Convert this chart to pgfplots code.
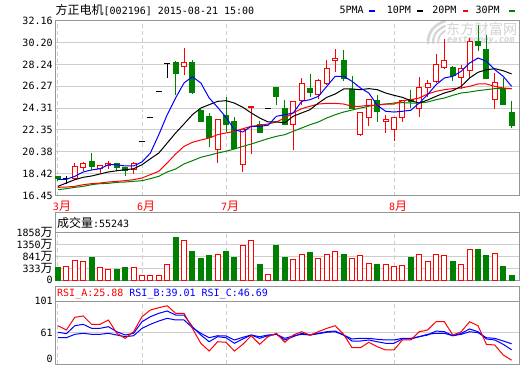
\documentclass[border=0pt]{standalone}
\usepackage{pgfplots}
\pgfplotsset{compat=1.18}
\usepackage{pgfplotstable}
\usepackage{fontspec}
\setmainfont{DejaVu Sans Mono}
\newfontfamily\cjk{Noto Sans CJK SC}
\newcommand\cj[1]{{\cjk\fontsize{12bp}{14bp}\selectfont #1}}
\definecolor{kred}{RGB}{255,0,0}
\definecolor{kgreen}{RGB}{0,128,0}
\definecolor{kblue}{RGB}{0,0,255}
\definecolor{gridc}{RGB}{205,205,205}
\definecolor{framec}{RGB}{150,150,150}
\definecolor{wm}{RGB}{212,212,212}

\pgfplotsset{
  panel/.style={
    scale only axis, width=464bp, xmin=-0.357, xmax=54.88,
    axis line style={draw=framec, line width=1bp},
    major tick length=0pt, tick style={draw=none},
    xtick={0,10,20,40},
    xmajorgrids, ymajorgrids,
    x grid style={draw=gridc, line width=1bp, dash pattern=on 4bp off 3bp},
    y grid style={draw=gridc, line width=1bp},
    yticklabel style={anchor=east, inner sep=0pt, xshift=-2.2bp, font=\fontsize{10bp}{12bp}\selectfont},
    /pgf/number format/assume math mode=true,
  },
  rbody/.style={draw=kred, fill=white, line width=1bp, mark=none},
  gbody/.style={draw=kgreen, fill=kgreen, line width=1bp, mark=none},
}
\newcommand\rb[4]{\addplot[rbody] coordinates {(#1,#3) (#2,#3) (#2,#4) (#1,#4)} -- cycle;}
\newcommand\gb[4]{\addplot[gbody] coordinates {(#1,#3) (#2,#3) (#2,#4) (#1,#4)} -- cycle;}

\pgfplotstableread{
i ma5 ma10 ma20 ma30
0 17.92 17.29 17.20 16.99
1 17.92 17.59 17.23 17.08
2 18.19 17.89 17.29 17.20
3 18.58 18.10 17.44 17.29
4 18.76 18.22 17.53 17.44
5 18.87 18.40 17.59 17.53
6 19.23 18.58 17.68 17.56
7 19.23 18.69 17.74 17.65
8 19.12 18.78 17.80 17.68
9 19.12 18.87 17.89 17.74
10 19.48 19.23 18.04 17.80
11 20.28 19.77 18.34 17.98
12 21.93 20.28 18.64 18.19
13 23.72 21.18 19.39 18.58
14 25.22 22.08 20.19 18.85
15 26.57 22.89 20.88 19.30
16 27.13 23.72 21.24 19.59
17 26.57 24.32 21.45 19.90
18 25.22 24.62 21.63 20.08
19 24.39 24.92 21.93 20.28
20 23.49 24.98 22.08 20.44
21 22.37 24.77 22.23 20.64
22 22.17 24.39 22.46 20.88
23 22.68 23.88 22.68 21.09
24 22.68 23.43 22.77 21.33
25 22.77 23.07 22.89 21.57
26 23.58 23.07 23.07 21.78
27 23.72 23.00 23.43 21.93
28 23.88 23.58 23.88 22.23
29 24.92 23.88 24.26 22.53
30 25.07 24.17 24.48 22.82
31 25.37 24.77 24.68 23.07
32 26.27 25.28 24.74 23.43
33 27.17 25.58 24.74 23.72
34 27.17 26.03 24.68 23.96
35 26.72 26.03 24.48 24.14
36 26.12 25.97 24.48 24.32
37 25.67 26.06 24.57 24.48
38 24.57 25.97 24.57 24.62
39 24.03 25.67 24.68 24.68
40 23.96 25.46 24.68 24.77
41 24.03 25.28 24.98 24.80
42 24.12 24.98 25.07 24.77
43 24.77 24.77 25.22 24.77
44 25.52 25.04 25.58 24.86
45 26.41 25.37 25.82 25.07
46 27.02 25.67 25.97 25.22
47 27.17 25.88 26.06 25.46
48 27.62 26.27 26.12 25.67
49 28.36 27.02 26.27 25.76
50 28.81 27.53 26.48 25.88
51 28.52 27.76 26.48 25.97
52 27.76 27.85 26.27 26.06
53 27.17 27.67 26.12 26.06
54 26.27 27.38 26.06 26.06
}\matab

\pgfplotstableread{
i v
1 605
2 859
3 817
5 521
6 478
9 563
10 224
11 224
12 224
13 677
15 1706
19 1113
22 1494
23 1664
25 254
28 889
29 1101
31 902
32 1101
33 1228
35 902
36 1058
37 720
39 677
40 593
41 635
43 1101
44 804
45 1101
46 1058
48 677
49 1325
52 1143
}\volred

\pgfplotstableread{
i v
0 533
4 986
7 478
8 533
14 1833
16 1240
17 914
18 1029
20 1240
21 986
24 690
26 1494
27 986
30 1198
34 1113
38 690
42 986
47 817
50 1283
51 1029
53 605
54 224
}\volgreen

\pgfplotstableread{
i a b c
0 69.6 61.3 54.4
1 64.2 59.5 54.4
2 80.3 69.6 58.7
3 82.0 71.4 60.0
4 71.4 66.3 58.7
5 71.4 66.3 58.7
6 76.9 68.4 60.0
7 60.0 62.0 57.8
8 53.6 57.8 55.7
9 62.0 60.0 56.9
10 81.1 74.7 66.3
11 89.6 81.1 71.4
12 92.5 85.4 75.6
13 95.0 88.3 79.0
14 85.4 83.2 76.9
15 85.4 83.2 76.9
16 66.3 68.4 67.1
17 47.3 57.8 60.0
18 37.5 49.3 54.4
19 49.3 55.7 56.9
20 48.6 54.4 56.6
21 37.5 47.3 51.5
22 46.0 52.8 54.9
23 56.9 57.8 57.8
24 46.0 53.6 55.7
25 55.7 56.9 57.8
26 60.0 58.7 58.7
27 48.6 51.5 53.6
28 57.8 55.7 56.6
29 62.0 60.0 58.7
30 57.8 57.8 57.8
31 62.0 60.0 59.5
32 66.3 62.0 61.3
33 69.6 62.9 62.0
34 58.7 57.8 57.8
35 41.7 50.2 52.8
36 41.7 50.2 53.6
37 48.6 51.5 53.6
38 43.0 49.3 52.4
39 38.8 47.3 51.5
40 38.8 47.3 51.5
41 51.5 52.8 53.6
42 51.5 52.8 53.6
43 62.0 55.7 55.7
44 64.2 57.8 58.7
45 74.7 62.9 60.0
46 74.7 62.0 60.0
47 57.8 56.9 56.9
48 62.0 60.0 58.7
49 74.7 65.5 62.0
50 69.6 62.0 60.8
51 46.0 52.8 54.4
52 45.1 51.5 53.6
53 32.4 46.0 50.2
54 25.88 39.01 46.69
}\rsitab

\begin{document}
\begin{tikzpicture}[font=\fontsize{10bp}{12bp}\selectfont]
\fill[white, use as bounding box] (0,0) rectangle (520bp,-365bp);

% watermark
\node[text=wm, anchor=west, inner sep=0pt] at (446bp,-29.5bp) {\cjk\fontsize{14.2bp}{15bp}\selectfont 东方财富网};
\node[text=wm, anchor=west, inner sep=0pt] at (447bp,-40.8bp) {\fontsize{8.6bp}{9bp}\selectfont\bfseries\itshape eastmoney.com};
\draw[wm, line width=2.6bp, line cap=round] (428bp,-43bp) .. controls (428bp,-32bp) and (434bp,-25bp) .. (445bp,-21bp);
\draw[wm, line width=2.2bp, line cap=round] (433bp,-43bp) .. controls (433bp,-34bp) and (438bp,-29bp) .. (445bp,-26bp);
\draw[wm, line width=1.8bp, line cap=round] (438bp,-43bp) .. controls (438bp,-37bp) and (441bp,-33bp) .. (445bp,-31bp);

% title and legend
\node[anchor=west, inner sep=0pt] at (55.5bp,-10bp) {\cj{方正电机}[002196] 2015-08-21 15:00};
\node[anchor=west, inner sep=0pt] at (339.4bp,-10bp) {5PMA};
\node[anchor=west, inner sep=0pt] at (386.7bp,-10bp) {10PM};
\node[anchor=west, inner sep=0pt] at (432.1bp,-10bp) {20PM};
\node[anchor=west, inner sep=0pt] at (475.4bp,-10bp) {30PM};
\fill[kblue] (369.3bp,-9.8bp) rectangle (374.6bp,-12.2bp);
\fill[black] (416.9bp,-9.8bp) rectangle (423.2bp,-12.2bp);
\fill[kred] (462.8bp,-9.8bp) rectangle (468.4bp,-12.2bp);
\fill[kgreen] (509.4bp,-9.8bp) rectangle (515.2bp,-12.2bp);

% panel frames (header rows)
\draw[framec, line width=1bp] (55bp,-212.7bp) rectangle (519bp,-280.3bp);
\draw[framec, line width=1bp] (55bp,-286.7bp) rectangle (519bp,-364bp);
\node[anchor=west, inner sep=0pt] at (56.8bp,-222.5bp) {\cj{成交量}:55243};
\node[anchor=west, inner sep=0pt] at (57bp,-293.5bp) {\textcolor{kred}{RSI\_A:25.88} \textcolor{kblue}{RSI\_B:39.01 RSI\_C:46.69}};

% ---------------- main price panel ----------------
\begin{axis}[panel, at={(55bp,-195.7bp)}, anchor=south west, height=175bp,
  ymin=16.45, ymax=32.16,
  ytick={16.45,18.42,20.38,22.35,24.31,26.27,28.24,30.20,32.16},
  yticklabels={16.45,18.42,20.38,22.35,24.31,26.27,28.24,30.20,32.16},
  xticklabels={3\cj{月},6\cj{月},7\cj{月},8\cj{月}},
  xticklabel style={text=kred, anchor=west, inner sep=0pt, xshift=-5.2bp, yshift=-11bp, font=\fontsize{10bp}{12bp}\selectfont},
]
% wicks
\addplot[kred, line width=1bp, unbounded coords=jump, mark=none] coordinates {
(2,17.86) (2,19.36) (2,nan) (3,18.64) (3,19.48) (3,nan) (5,18.46) (5,19.23) (5,nan)
(6,18.87) (6,19.54) (6,nan) (9,18.40) (9,19.48) (9,nan) (15,27.26) (15,29.71) (15,nan)
(19,19.41) (19,23.31) (19,nan) (22,18.58) (22,22.41) (22,nan) (23,20.19) (23,24.50) (23,nan)
(28,20.58) (28,24.98) (28,nan) (29,24.57) (29,27.02) (29,nan) (31,25.10) (31,26.95) (31,nan)
(32,26.42) (32,28.63) (32,nan) (33,27.55) (33,29.65) (33,nan) (36,21.81) (36,23.96) (36,nan)
(37,22.68) (37,25.16) (37,nan) (39,22.08) (39,23.72) (39,nan) (40,21.39) (40,23.49) (40,nan)
(41,23.07) (41,25.04) (41,nan) (43,23.54) (43,27.13) (43,nan) (44,25.28) (44,26.84) (44,nan)
(45,26.54) (45,29.17) (45,nan) (46,27.85) (46,30.55) (46,nan) (48,26.06) (48,28.21) (48,nan)
(49,27.02) (49,30.61) (49,nan) (52,24.26) (52,27.44)
};
\addplot[kgreen, line width=1bp, unbounded coords=jump, mark=none] coordinates {
(0,17.80) (0,18.25) (0,nan) (4,18.78) (4,20.28) (4,nan) (7,18.64) (7,19.41) (7,nan)
(8,18.22) (8,19.00) (8,nan) (14,25.46) (14,28.57) (14,nan) (16,25.58) (16,28.63) (16,nan)
(17,23.07) (17,24.26) (17,nan) (18,20.85) (18,23.90) (18,nan) (20,22.14) (20,25.28) (20,nan)
(21,20.67) (21,23.49) (21,nan) (24,22.05) (24,23.13) (24,nan) (26,24.62) (26,26.24) (26,nan)
(27,22.77) (27,25.04) (27,nan) (30,25.34) (30,27.38) (30,nan) (34,26.72) (34,29.56) (34,nan)
(35,24.26) (35,27.17) (35,nan) (38,23.07) (38,25.52) (38,nan) (42,24.32) (42,25.90) (42,nan)
(47,26.72) (47,28.05) (47,nan) (50,29.47) (50,31.80) (50,nan) (51,26.95) (51,30.90) (51,nan)
(53,24.62) (53,27.02) (53,nan) (54,22.53) (54,24.92)
};
\addplot[black, line width=1bp, unbounded coords=jump, mark=none] coordinates {
(0.65,17.95) (1.35,17.95) (1,nan) (1,17.54) (1,18.22) (1,nan)
(9.65,21.30) (10.35,21.30) (10,nan) (10.65,23.43) (11.35,23.43) (11,nan)
(11.65,25.77) (12.35,25.77) (12,nan) (12.65,28.35) (13.35,28.35) (13,nan)
(13,27.02) (13,28.35) (13,nan) (24.65,24.31) (25.35,24.31)
};
% bodies
\gb{-0.3}{0.3}{18.13}{18.01}
\gb{3.7}{4.3}{19.54}{19.05}
\gb{6.7}{7.3}{19.36}{19.00}
\gb{7.7}{8.3}{18.94}{18.70}
\gb{13.7}{14.3}{28.45}{27.46}
\gb{15.7}{16.3}{28.45}{25.70}
\gb{16.7}{17.3}{24.14}{23.13}
\gb{17.7}{18.3}{23.60}{21.69}
\gb{19.7}{20.3}{23.69}{22.88}
\gb{20.7}{21.3}{23.13}{20.67}
\gb{23.7}{24.3}{22.88}{22.10}
\gb{25.7}{26.3}{26.18}{25.37}
\gb{26.7}{27.3}{24.32}{22.88}
\gb{29.7}{30.3}{26.06}{25.70}
\gb{33.7}{34.3}{28.57}{26.95}
\gb{34.7}{35.3}{26.00}{24.26}
\gb{37.7}{38.3}{25.04}{24.03}
\gb{41.7}{42.3}{25.09}{24.91}
\gb{46.7}{47.3}{27.98}{27.26}
\gb{49.7}{50.3}{30.31}{29.95}
\gb{50.7}{51.3}{29.59}{26.95}
\gb{52.7}{53.3}{26.06}{24.62}
\gb{53.7}{54.3}{23.96}{22.77}
\rb{1.7}{2.3}{17.98}{19.09}
\rb{2.7}{3.3}{19.00}{19.30}
\rb{4.7}{5.3}{18.87}{19.12}
\rb{5.7}{6.3}{19.18}{19.36}
\rb{8.7}{9.3}{18.76}{19.36}
\rb{14.7}{15.3}{28.03}{28.45}
\rb{18.7}{19.3}{20.62}{23.31}
\rb{21.7}{22.3}{19.23}{22.35}
\rb{22.7}{23.3}{24.38}{24.47}
\rb{27.7}{28.3}{22.82}{24.92}
\rb{28.7}{29.3}{24.98}{26.48}
\rb{30.7}{31.3}{25.58}{26.77}
\rb{31.7}{32.3}{26.48}{27.91}
\rb{32.7}{33.3}{28.63}{28.81}
\rb{35.7}{36.3}{21.93}{23.96}
\rb{36.7}{37.3}{23.43}{25.10}
\rb{38.7}{39.3}{23.07}{23.25}
\rb{39.7}{40.3}{22.41}{23.43}
\rb{40.7}{41.3}{23.43}{25.04}
\rb{42.7}{43.3}{24.32}{26.18}
\rb{43.7}{44.3}{26.18}{26.54}
\rb{44.7}{45.3}{26.72}{28.27}
\rb{45.7}{46.3}{27.98}{28.63}
\rb{47.7}{48.3}{27.08}{27.85}
\rb{48.7}{49.3}{27.73}{30.31}
\rb{51.7}{52.3}{25.10}{26.60}
% moving averages
\addplot[kgreen, line width=1bp, mark=none] table[x=i, y=ma30] {\matab};
\addplot[kred, line width=1bp, mark=none] table[x=i, y=ma20] {\matab};
\addplot[black, line width=1bp, mark=none] table[x=i, y=ma10] {\matab};
\addplot[kblue, line width=1bp, mark=none] table[x=i, y=ma5] {\matab};
\end{axis}

% ---------------- volume panel ----------------
\begin{axis}[panel, at={(55bp,-280.3bp)}, anchor=south west, height=48bp,
  ymin=0, ymax=2032,
  ytick={0,508,1016,1524,2032},
  yticklabels={0,333\cj{万},841\cj{万},1350\cj{万},1858\cj{万}},
  xticklabels={},
]
\addplot[ybar, bar width=5bp, bar shift=0pt, draw=kred, fill=white, line width=1bp] table[x=i, y=v] {\volred};
\addplot[ybar, bar width=5bp, bar shift=0pt, draw=kgreen, fill=kgreen, line width=1bp] table[x=i, y=v] {\volgreen};
\end{axis}

% ---------------- RSI panel ----------------
\begin{axis}[panel, at={(55bp,-364bp)}, anchor=south west, height=63bp,
  ymin=21, ymax=101,
  ytick={21,61,101}, yticklabels={\smash{\raisebox{1.5bp}{0}},61,101},
  xticklabels={},
]
\addplot[kblue, line width=1bp, mark=none] table[x=i, y=c] {\rsitab};
\addplot[kblue, line width=1bp, mark=none] table[x=i, y=b] {\rsitab};
\addplot[kred, line width=1bp, mark=none] table[x=i, y=a] {\rsitab};
\end{axis}
\end{tikzpicture}
\end{document}
